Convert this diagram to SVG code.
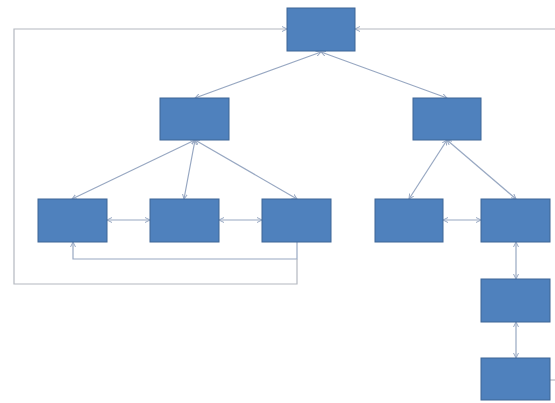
<svg xmlns="http://www.w3.org/2000/svg" width="555" height="403" viewBox="0 0 555 403">
<defs>
<style>
.box{fill:#4f81bd;stroke:#3c6595;stroke-width:1}
.con{fill:none;stroke:#98a8c2;stroke-width:1.2}
.loop{fill:none;stroke:#b4b8c0;stroke-width:1.2}
</style>
<marker id="ah" markerWidth="6" markerHeight="6" refX="5" refY="3" orient="auto-start-reverse" markerUnits="userSpaceOnUse">
<path d="M0,0.5 L5,3 L0,5.5" fill="none" stroke="#98a8c2" stroke-width="1"/>
</marker>
</defs>
<rect width="555" height="403" fill="#ffffff"/>
<g id="connectors">
<line class="con" x1="321" y1="52" x2="195" y2="98" marker-start="url(#ah)" marker-end="url(#ah)"/>
<line class="con" x1="321" y1="52" x2="447" y2="98" marker-start="url(#ah)" marker-end="url(#ah)"/>
<line class="con" x1="195" y1="140" x2="72" y2="199" marker-start="url(#ah)" marker-end="url(#ah)"/>
<line class="con" x1="195" y1="140" x2="184" y2="199" marker-start="url(#ah)" marker-end="url(#ah)"/>
<line class="con" x1="195" y1="140" x2="297" y2="199" marker-start="url(#ah)" marker-end="url(#ah)"/>
<line class="con" x1="447" y1="140" x2="409" y2="199" marker-start="url(#ah)" marker-end="url(#ah)"/>
<line class="con" x1="447" y1="140" x2="516" y2="199" marker-start="url(#ah)" marker-end="url(#ah)"/>
<line class="con" x1="107" y1="220" x2="150" y2="220" marker-start="url(#ah)" marker-end="url(#ah)"/>
<line class="con" x1="219" y1="220" x2="262" y2="220" marker-start="url(#ah)" marker-end="url(#ah)"/>
<line class="con" x1="443" y1="220" x2="481" y2="220" marker-start="url(#ah)" marker-end="url(#ah)"/>
<line class="con" x1="516" y1="242" x2="516" y2="279" marker-start="url(#ah)" marker-end="url(#ah)"/>
<line class="con" x1="516" y1="322" x2="516" y2="358" marker-start="url(#ah)" marker-end="url(#ah)"/>
<polyline class="con" points="297,242 297,259 73,259 73,242" marker-end="url(#ah)"/>
<polyline class="loop" points="297,259 297,284 14,284 14,29 287,29" marker-end="url(#ah)"/>
<polyline class="loop" points="555,29 355,29" marker-end="url(#ah)"/>
<line class="loop" x1="550" y1="380" x2="555" y2="380"/>
</g>
<g id="n1"><rect class="box" x="287" y="8" width="68" height="43"/></g>
<g id="n2"><rect class="box" x="160" y="98" width="69" height="42"/></g>
<g id="n3"><rect class="box" x="413" y="98" width="68" height="42"/></g>
<g id="n4"><rect class="box" x="38" y="199" width="69" height="43"/></g>
<g id="n5"><rect class="box" x="150" y="199" width="69" height="43"/></g>
<g id="n6"><rect class="box" x="262" y="199" width="69" height="43"/></g>
<g id="n7"><rect class="box" x="375" y="199" width="68" height="43"/></g>
<g id="n8"><rect class="box" x="481" y="199" width="69" height="43"/></g>
<g id="n9"><rect class="box" x="481" y="279" width="69" height="43"/></g>
<g id="n10"><rect class="box" x="481" y="358" width="69" height="42"/></g>
</svg>
